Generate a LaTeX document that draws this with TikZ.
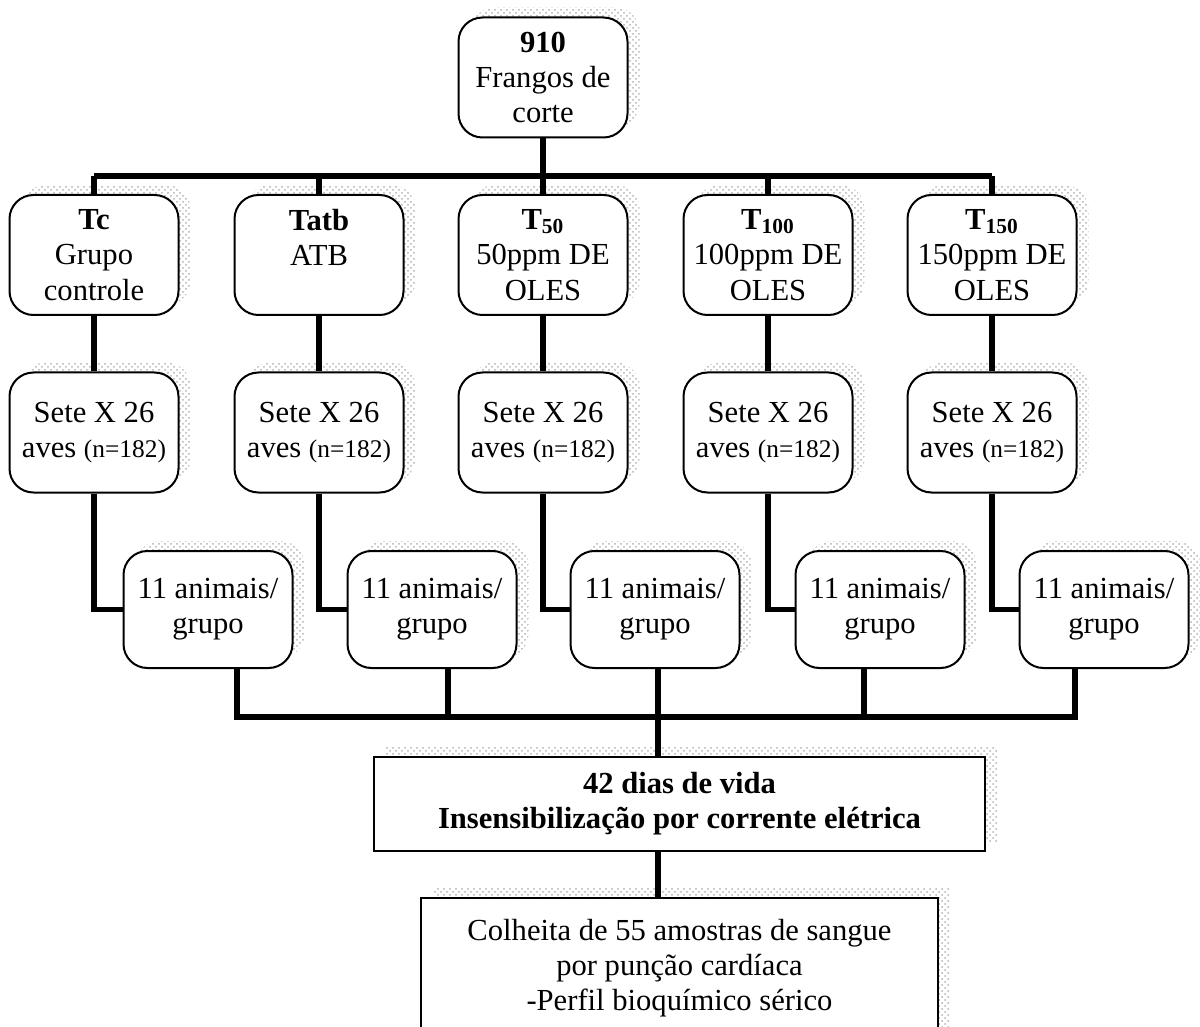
\documentclass[tikz,border=0pt]{standalone}
\usepackage{fontspec}
\setmainfont{Liberation Serif}
\usetikzlibrary{shadows,patterns}
\begin{document}
\begin{tikzpicture}[x=.5pt,y=-.5pt,
		caixa/.style={draw,line width=1pt,rounded corners=12pt,fill=white,align=center,
			minimum width=84.5pt,minimum height=60pt,inner sep=2pt,
			font=\fontsize{15.3}{17.6}\selectfont,
			drop shadow={shadow xshift=6pt,shadow yshift=5pt,opacity=1,
				pattern=crosshatch dots,pattern color=black!30}},
		quadro/.style={caixa,sharp corners,line width=1.2pt},
		liga/.style={line width=2.8pt}]
		\clip (0,0) rectangle (1200,1027);

		\node[caixa] (topo) at (543,77.5) {\textbf{910}\\Frangos de\\corte};

		\node[caixa] (g1) at (94,255) {\textbf{Tc}\\Grupo\\controle};
		\node[caixa] (g2) at (319,255) {\textbf{Tatb}\\ATB\\\mbox{}};
		\node[caixa] (g3) at (543,255) {\textbf{T\textsubscript{50}}\\50ppm DE\\OLES};
		\node[caixa] (g4) at (768,255) {\textbf{T\textsubscript{100}}\\100ppm DE\\OLES};
		\node[caixa] (g5) at (992,255) {\textbf{T\textsubscript{150}}\\150ppm DE\\OLES};

		\node[caixa] (s1) at (94,432.5) {Sete X 26\\aves {\fontsize{12.7}{14}\selectfont(n=182)}};
		\node[caixa] (s2) at (319,432.5) {Sete X 26\\aves {\fontsize{12.7}{14}\selectfont(n=182)}};
		\node[caixa] (s3) at (543,432.5) {Sete X 26\\aves {\fontsize{12.7}{14}\selectfont(n=182)}};
		\node[caixa] (s4) at (768,432.5) {Sete X 26\\aves {\fontsize{12.7}{14}\selectfont(n=182)}};
		\node[caixa] (s5) at (992,432.5) {Sete X 26\\aves {\fontsize{12.7}{14}\selectfont(n=182)}};

		\node[caixa,minimum height=58.5pt] (q1) at (208,609.5) {11 animais/\\grupo};
		\node[caixa,minimum height=58.5pt] (q2) at (432,609.5) {11 animais/\\grupo};
		\node[caixa,minimum height=58.5pt] (q3) at (655,609.5) {11 animais/\\grupo};
		\node[caixa,minimum height=58.5pt] (q4) at (880,609.5) {11 animais/\\grupo};
		\node[caixa,minimum height=58.5pt] (q5) at (1104,609.5) {11 animais/\\grupo};

		\node[quadro,minimum width=305.5pt,minimum height=47pt,
			font=\fontsize{15.3}{17.6}\selectfont\bfseries] (abate) at (679.5,804)
			{42 dias de vida\\Insensibilização por corrente elétrica};
		\node[quadro,anchor=north,minimum width=258.5pt,inner ysep=10.5pt] (coleta) at (679.5,897)
			{Colheita de 55 amostras de sangue\\por punção cardíaca\\-Perfil bioquímico sérico};

		\coordinate (b0) at (543,176);
		\draw[liga] (topo) -- (b0);
		\draw[liga] (g1.north |- b0) -- (g5.north |- b0);
		\draw[liga] (g1.north |- b0) -- (g1.north);
		\draw[liga] (g2.north |- b0) -- (g2.north);
		\draw[liga] (g3.north |- b0) -- (g3.north);
		\draw[liga] (g4.north |- b0) -- (g4.north);
		\draw[liga] (g5.north |- b0) -- (g5.north);

		\draw[liga] (g1) -- (s1);
		\draw[liga] (g2) -- (s2);
		\draw[liga] (g3) -- (s3);
		\draw[liga] (g4) -- (s4);
		\draw[liga] (g5) -- (s5);

		\draw[liga] (s1) |- (q1);
		\draw[liga] (s2) |- (q2);
		\draw[liga] (s3) |- (q3);
		\draw[liga] (s4) |- (q4);
		\draw[liga] (s5) |- (q5);

		\coordinate (b1) at (658,717);
		\draw[liga] ([xshift=14.5pt]q1.south) |- (b1);
		\draw[liga] ([xshift=8pt]q2.south) |- (b1);
		\draw[liga] ([xshift=1.5pt]q3.south) |- (b1);
		\draw[liga] ([xshift=-8pt]q4.south) |- (b1);
		\draw[liga] ([xshift=-14.5pt]q5.south) |- (b1);
		\draw[liga] (b1) -- (b1 |- abate.north);
		\draw[liga] (b1 |- abate.south) -- (b1 |- coleta.north);
	\end{tikzpicture}
\end{document}
